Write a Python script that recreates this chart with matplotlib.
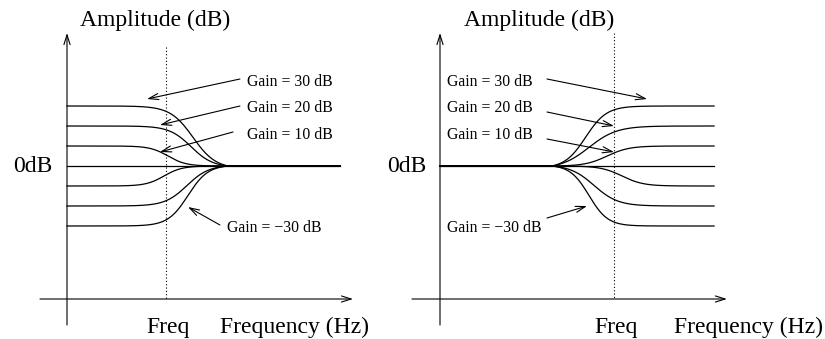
import numpy as np
import matplotlib
matplotlib.use("Agg")
import matplotlib.pyplot as plt

plt.rcParams['font.family'] = ['Liberation Serif', 'DejaVu Serif']

# ---------------- data ----------------
gains_db = [30, 20, 10, 0, -10, -20, -30]
gain_labels = ["Gain = 30 dB", "Gain = 20 dB", "Gain = 10 dB", "Gain = \u221230 dB"]

# frequency axis in units of the shelf frequency ("Freq" = 1)
freq_marker = 1.0

# left panel: low shelf (gain applied below Freq, back to 0 dB at left_join)
left_join = 1.626
left_end = 2.76
left_centers = [1.273, 1.253, 1.020, 1.0, 0.980, 1.212, 1.222]
left_widths = [0.115, 0.110, 0.091, 0.1, 0.091, 0.111, 0.101]

# right panel: high shelf (leaves 0 dB at right_join, gain above Freq)
right_join = 0.644
right_end = 1.575
right_centers = [0.837, 0.856, 0.960, 1.0, 1.046, 0.885, 0.856]
right_widths = [0.060, 0.080, 0.063, 0.06, 0.061, 0.069, 0.054]


def shelf(x, g, join, far, center, width):
    """Logistic transition between 0 dB at `join` and g dB at `far`."""
    sgn = np.sign(far - join)

    def s(v):
        return 1.0 / (1.0 + np.exp(-sgn * (v - center) / width))

    frac = (s(x) - s(join)) / (s(far) - s(join))
    frac = np.where(sgn * (x - join) < 0, 0.0, frac)
    return g * frac


W, H = 825, 339
fig = plt.figure(figsize=(W / 100, H / 100), dpi=100)

LW = 0.9
BIG = 17
SMALL = 11.3
arrow_kw = dict(arrowstyle="->,head_length=0.7,head_width=0.22", lw=0.8,
                color="black", shrinkA=0, shrinkB=0)


def make_axes(x0px, x1px, axis_px, unit_px):
    ax = fig.add_axes([x0px / W, 0, (x1px - x0px) / W, 1])
    ax.set_xlim((x0px - axis_px) / unit_px, (x1px - axis_px) / unit_px)
    ax.set_ylim((166 - H) / 2, 166 / 2)
    ax.axis("off")
    return ax


# ---------------- left panel: low shelf ----------------
axL = make_axes(0, 412, 67, 99)
axL.annotate("", xy=(0, 66.5), xytext=(0, -79.5), arrowprops=arrow_kw)
axL.annotate("", xy=(2.889, -66.5), xytext=(-0.273, -66.5), arrowprops=arrow_kw)
axL.plot([freq_marker, freq_marker], [59.5, -66.5], color="black", lw=0.8,
         linestyle=(0, (1, 2)))
xs = np.linspace(0, left_end, 1200)
for g, c, w in zip(gains_db, left_centers, left_widths):
    if g == 0:
        axL.plot([0, left_end], [0, 0], color="black", lw=LW)
    else:
        axL.plot(xs, shelf(xs, g, left_join, 0.0, c, w), color="black", lw=LW)

axL.text(0.131, 70, "Amplitude (dB)", fontsize=BIG, ha="left", va="baseline")
axL.text(-0.15, -3, "0dB", fontsize=BIG, ha="right", va="baseline")
axL.text(1.025, -83.5, "Freq", fontsize=BIG, ha="center", va="baseline")
axL.text(1.545, -83.5, "Frequency (Hz)", fontsize=BIG, ha="left", va="baseline")

left_label_pos = [(1.818, 40), (1.818, 27), (1.818, 13.5), (1.616, -33)]
left_arrows = [((1.747, 43.5), (0.808, 33.5)),
               ((1.747, 30.0), (0.939, 20.5)),
               ((1.677, 17.0), (0.939, 7.0)),
               ((1.545, -29.5), (1.222, -20.5))]
for lab, (tx, ty), (tail, head) in zip(gain_labels, left_label_pos, left_arrows):
    axL.text(tx, ty, lab, fontsize=SMALL, ha="left", va="baseline")
    axL.annotate("", xy=head, xytext=tail, arrowprops=arrow_kw)

# ---------------- right panel: high shelf ----------------
axR = make_axes(412, 825, 440, 174)
axR.annotate("", xy=(0, 66.5), xytext=(0, -79.5), arrowprops=arrow_kw)
axR.annotate("", xy=(1.649, -66.5), xytext=(-0.161, -66.5), arrowprops=arrow_kw)
axR.plot([freq_marker, freq_marker], [66.5, -66.5], color="black", lw=0.8,
         linestyle=(0, (1, 2)))
xs = np.linspace(0, right_end, 1200)
for g, c, w in zip(gains_db, right_centers, right_widths):
    if g == 0:
        axR.plot([0, right_end], [0, 0], color="black", lw=LW)
    else:
        axR.plot(xs, shelf(xs, g, right_join, right_end, c, w), color="black", lw=LW)

axR.text(0.138, 70, "Amplitude (dB)", fontsize=BIG, ha="left", va="baseline")
axR.text(-0.08, -3, "0dB", fontsize=BIG, ha="right", va="baseline")
axR.text(1.009, -83.5, "Freq", fontsize=BIG, ha="center", va="baseline")
axR.text(1.345, -83.5, "Frequency (Hz)", fontsize=BIG, ha="left", va="baseline")

right_label_pos = [(0.040, 40), (0.040, 27), (0.040, 13.5), (0.040, -33)]
right_arrows = [((0.615, 43.5), (1.190, 33.5)),
                ((0.615, 27.0), (1.000, 20.0)),
                ((0.615, 13.5), (1.000, 7.0)),
                ((0.615, -26.0), (0.845, -20.0))]
for lab, (tx, ty), (tail, head) in zip(gain_labels, right_label_pos, right_arrows):
    axR.text(tx, ty, lab, fontsize=SMALL, ha="left", va="baseline")
    axR.annotate("", xy=head, xytext=tail, arrowprops=arrow_kw)

fig.savefig("out.png", dpi=100, facecolor="white")
